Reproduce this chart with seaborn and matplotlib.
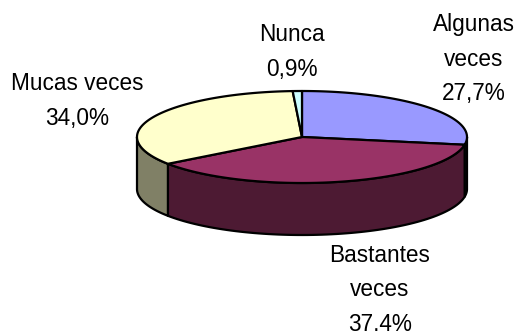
import numpy as np
import matplotlib
matplotlib.use("Agg")
import matplotlib.pyplot as plt
from matplotlib.patches import Polygon
import seaborn as sns

# Survey answers and their shares (%)
categories = ["Algunas\nveces", "Bastantes\nveces", "Mucas veces", "Nunca"]
values = [27.7, 37.4, 34.0, 0.9]

top_colors = ["#9999FF", "#993366", "#FFFFCC", "#CCFFFF"]
side_colors = ["#4D4D80", "#4D1A33", "#808066", "#668080"]

# label anchor points (pixel frame)
label_pos = [(474, 59), (380, 290), (77, 101), (292, 52)]

sns.set_theme(style="white")
plt.rcParams["font.family"] = ["Liberation Sans", "DejaVu Sans"]

fig = plt.figure(figsize=(5.2, 3.31), dpi=100)
ax = fig.add_axes([0, 0, 1, 1])
ax.set_xlim(0, 520)
ax.set_ylim(331, 0)
ax.axis("off")

cx, cy, rx, ry, depth = 302.0, 137.0, 165.0, 46.0, 52.0


def ell(theta_deg, dy=0.0):
    t = np.radians(theta_deg)
    return np.column_stack([cx + rx * np.cos(t), cy - ry * np.sin(t) + dy])


fracs = np.array(values) / np.sum(values)
bounds = 90 - 360 * np.concatenate([[0], np.cumsum(fracs)])

lw = 1.6
# side walls of the front half (angles between -180 and 0)
for i in range(len(values)):
    hi, lo = bounds[i], bounds[i + 1]
    a, b = min(hi, 0.0), max(lo, -180.0)
    if a <= b:
        continue
    th = np.linspace(a, b, 80)
    top = ell(th)
    bot = ell(th[::-1], depth)
    ax.add_patch(Polygon(np.vstack([top, bot]), closed=True,
                         facecolor=side_colors[i], edgecolor="black",
                         linewidth=lw, joinstyle="round"))

# top faces
for i in range(len(values)):
    th = np.linspace(bounds[i], bounds[i + 1], 200)
    pts = np.vstack([[cx, cy], ell(th)])
    ax.add_patch(Polygon(pts, closed=True, facecolor=top_colors[i],
                         edgecolor="black", linewidth=lw, joinstyle="round"))

for name, v, (x, y) in zip(categories, values, label_pos):
    txt = f"{name}\n{v:.1f}%".replace(".", ",")
    ax.text(x, y, txt, ha="center", va="center", fontsize=16.3,
            linespacing=1.62, color="black")

fig.savefig("out.png", dpi=100)
